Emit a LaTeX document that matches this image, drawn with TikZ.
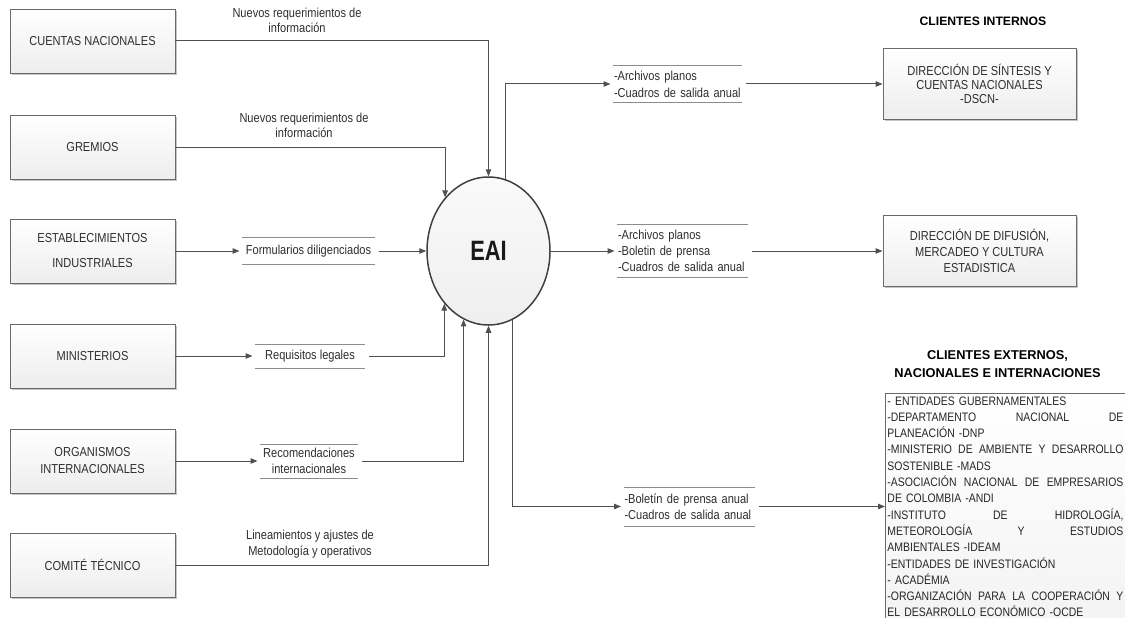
\documentclass[tikz,border=0pt]{standalone}
\usepackage{fontspec}
\setmainfont{Liberation Sans}[FakeStretch=0.85]
\newfontfamily\headfont{Liberation Sans}
\newfontfamily\eaifont{Liberation Sans}[FakeStretch=0.78]
\usetikzlibrary{arrows.meta,shapes.geometric,shadows}
\definecolor{ink}{HTML}{2E2E2E}
\definecolor{wire}{HTML}{505050}
\definecolor{rulec}{HTML}{8C8C8C}
\definecolor{edgec}{HTML}{6A6A6A}
% a justified line of the client list (words separated by \hfill)
\newcommand\jline[1]{\makebox[236pt][l]{#1}}
\begin{document}
\begin{tikzpicture}[x=1pt,y=-1pt,
  every node/.style={text=ink, font=\fontsize{13}{15}\selectfont},
  entity/.style={draw=edgec, line width=0.9pt, top color=white, bottom color=gray!14,
    minimum width=165pt, minimum height=64pt, align=center,
    drop shadow={shadow xshift=1.6pt, shadow yshift=-1.6pt, opacity=0.45, fill=gray}},
  client/.style={entity, minimum width=193pt, minimum height=71pt},
  rule/.style={draw=rulec, line width=1pt},
  store/.style={inner xsep=1pt, inner ysep=0pt, outer sep=0pt,
    append after command={(\tikzlastnode.north west) edge[rule] (\tikzlastnode.north east)
      (\tikzlastnode.south west) edge[rule] (\tikzlastnode.south east)}},
  flow/.style={draw=wire, line width=1pt, -{Triangle[length=7pt,width=5.5pt]}},
  gap/.style={shorten >=2.5pt},
  gapin/.style={shorten <=4pt},
  caption/.style={align=center, font=\fontsize{13}{15}\selectfont},
  heading/.style={text=black, align=center, font=\headfont\bfseries\fontsize{12.2}{18}\selectfont},
]
\useasboundingbox (0,0) rectangle (1125,618);
\fill[white] (0,0) rectangle (1125,618);
\clip (0,0) rectangle (1125,618);

% information sources
\node[entity] (cn) at (92.5,41) {CUENTAS NACIONALES};
\node[entity] (gr) at (92.5,147) {GREMIOS};
\node[entity, font=\fontsize{13}{25}\selectfont] (est) at (92.5,251) {ESTABLECIMIENTOS\\INDUSTRIALES};
\node[entity] (mi) at (92.5,356) {MINISTERIOS};
\node[entity, font=\fontsize{13}{17}\selectfont] (og) at (92.5,461) {ORGANISMOS\\INTERNACIONALES};
\node[entity] (ct) at (92.5,565) {COMITÉ TÉCNICO};

% central process
\node[ellipse, draw=black!75, line width=1.5pt, top color=gray!4, bottom color=gray!13,
  minimum width=123pt, minimum height=148pt, inner sep=0pt, text=black!90,
  font=\eaifont\bfseries\fontsize{28}{28}\selectfont] (eai) at (488.5,251) {EAI};

% incoming data flows
\node[store, minimum width=133pt, minimum height=27pt] (f1) at (308.5,251) {Formularios diligenciados};
\node[store, minimum width=110pt, minimum height=24pt] (f2) at (310,356) {Requisitos legales};
\node[store, minimum width=98pt, minimum height=34pt, align=center,
  font=\fontsize{13}{16}\selectfont] (f3) at (309,461) {Recomendaciones\\internacionales};

\node[caption] (c1) at (297,20.5) {Nuevos requerimientos de\\información};
\node[caption] (c2) at (304,125.5) {Nuevos requerimientos de\\información};
\node[caption, font=\fontsize{13}{16}\selectfont] (c3) at (310,544) {Lineamientos y ajustes de\\Metodología y operativos};

% outgoing data flows
\node[store, text width=127pt, minimum height=37pt, align=left,
  font=\fontsize{13}{17}\selectfont] (o1) at (677.5,84) {-Archivos planos\\-Cuadros de salida anual};
\node[store, text width=129pt, minimum height=53pt, align=left,
  font=\fontsize{13}{16}\selectfont] (o2) at (682.5,251) {-Archivos planos\\-Boletin de prensa\\-Cuadros de salida anual};
\node[store, text width=129pt, minimum height=39pt, align=left,
  font=\fontsize{13}{16}\selectfont] (o3) at (689,506.5) {-Boletín de prensa anual\\-Cuadros de salida anual};

% clients
\node[heading] (hint) at (983,21) {CLIENTES INTERNOS};
\node[client, font=\fontsize{13}{13.7}\selectfont] (d1) at (979.5,84) {DIRECCIÓN DE SÍNTESIS Y\\CUENTAS NACIONALES\\-DSCN-};
\node[client, font=\fontsize{13}{16}\selectfont] (d2) at (979.5,251) {DIRECCIÓN DE DIFUSIÓN,\\MERCADEO Y CULTURA\\ESTADISTICA};

\node[heading, font=\headfont\bfseries\fontsize{12.8}{18}\selectfont] (hext) at (997.5,364) {CLIENTES EXTERNOS,\\NACIONALES E INTERNACIONES};
\node[draw=edgec, line width=0.9pt, top color=white, bottom color=gray!10, anchor=north west,
  inner xsep=2pt, inner ysep=3pt, text width=262pt, align=left, text=black!85,
  font=\fontsize{12.3}{16.3}\selectfont] (ext) at (885,393) {%
- ENTIDADES GUBERNAMENTALES\\
\jline{-DEPARTAMENTO\hfill NACIONAL\hfill DE}\\
PLANEACIÓN -DNP\\
\jline{-MINISTERIO\hfill DE\hfill AMBIENTE\hfill Y\hfill DESARROLLO}\\
SOSTENIBLE -MADS\\
\jline{-ASOCIACIÓN\hfill NACIONAL\hfill DE\hfill EMPRESARIOS}\\
DE COLOMBIA -ANDI\\
\jline{-INSTITUTO\hfill DE\hfill HIDROLOGÍA,}\\
\jline{METEOROLOGÍA\hfill Y\hfill ESTUDIOS}\\
AMBIENTALES -IDEAM\\
-ENTIDADES DE INVESTIGACIÓN\\
- ACADÉMIA\\
\jline{-ORGANIZACIÓN\hfill PARA\hfill LA\hfill COOPERACIÓN\hfill Y}\\
EL DESARROLLO ECONÓMICO -OCDE\\
\strut};

% connectors into the process
\draw[flow] (cn.east) -| (eai.north);
\draw[flow] (gr.east) -| (eai.129.75);
\draw[flow,gap] (est.east) -- (f1.west);
\draw[flow,gapin] (f1.east) -- (eai.west);
\draw[flow,gap] (mi.east) -- (f2.west);
\draw[flow,gapin] (f2.east) -| (eai.230.25);
\draw[flow,gap] (og.east) -- (f3.west);
\draw[flow,gapin] (f3.east) -| (eai.250.16);
\draw[flow] (ct.east) -| (eai.south);

% connectors out of the process
\draw[flow,gap] (eai.77.8) |- (o1.west);
\draw[flow,gapin] (o1.east) -- (d1.west);
\draw[flow,gap] (eai.east) -- (o2.west);
\draw[flow,gapin] (o2.east) -- (d2.west);
\draw[flow,gap] (eai.289.84) |- (o3.west);
\draw[flow,gapin] (o3.east) -- (o3.east -| ext.west);
\end{tikzpicture}
\end{document}
